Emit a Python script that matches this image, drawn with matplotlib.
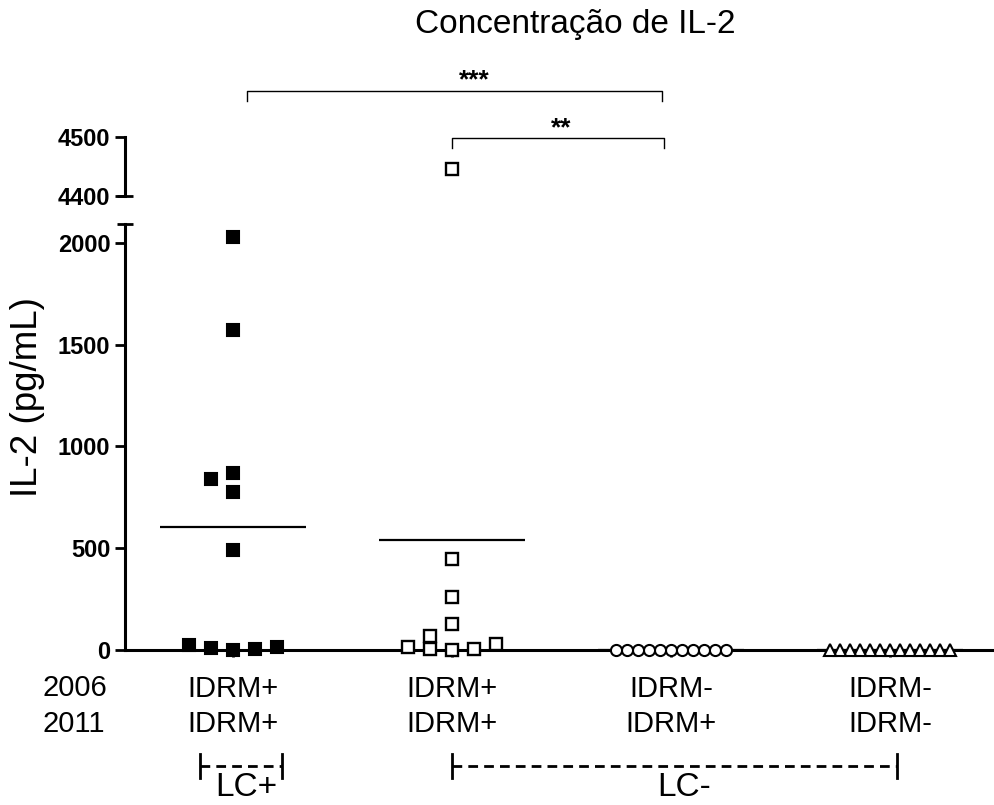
import numpy as np
import matplotlib.pyplot as plt
from matplotlib import transforms

plt.rcParams['font.family'] = ['Liberation Sans', 'DejaVu Sans']

# --- dados (pg/mL) ---
title = "Concentração de IL-2"
ylabel = "IL-2 (pg/mL)"
row_names = ["2006", "2011"]
labels_2006 = ["IDRM+", "IDRM+", "IDRM-", "IDRM-"]
labels_2011 = ["IDRM+", "IDRM+", "IDRM+", "IDRM-"]

lcpos_pp = [2030, 1570, 775, 870, 840, 490, 0, 10, 5, 25, 15]
lcneg_pp = [4445, 445, 260, 130, 70, 0, 5, 5, 15, 30]
lcneg_mp = [0, 0, 0, 0, 0, 0, 0, 0, 0, 0, 0]
lcneg_mm = [0, 0, 0, 0, 0, 0, 0, 0, 0, 0, 0, 0, 0]

groups = [lcpos_pp, lcneg_pp, lcneg_mp, lcneg_mm]
low_ticks = [0, 500, 1000, 1500, 2000]
high_ticks = [4400, 4500]

W, H = 995, 805


def fx(px):
    return px / W


def fy(py):
    return 1 - py / H


fig = plt.figure(figsize=(W / 100, H / 100), dpi=100)
ax = fig.add_axes([fx(125), fy(650), 1 - fx(125), (650 - 224) / H])
ax_top = fig.add_axes([fx(125), fy(196), 1 - fx(125), (196 - 137) / H])
ax.patch.set_visible(False)
ax_top.patch.set_visible(False)

pos = np.arange(1, 5)
xlim = (1 - 108 / 219, 1 + 762 / 219)
ax.set_ylim(0, 2093)
ax_top.set_ylim(4400, 4500)
ax.set_yticks(low_ticks)
ax_top.set_yticks(high_ticks)
for a in (ax, ax_top):
    a.set_xlim(*xlim)
    for s in ('top', 'right'):
        a.spines[s].set_visible(False)
    a.spines['left'].set_linewidth(2.2)
    a.tick_params(axis='y', direction='out', length=7, width=2, pad=3.5,
                  labelsize=17)
    for lab in a.get_yticklabels():
        lab.set_fontweight('bold')
ax_top.spines['bottom'].set_visible(False)
ax_top.set_xticks([])
ax.spines['bottom'].set_linewidth(2.2)

ax.set_xticks(pos)
ax.set_xticklabels([f"{a}\n{b}" for a, b in zip(labels_2006, labels_2011)],
                   fontsize=21, linespacing=1.33)
ax.tick_params(axis='x', direction='out', length=5, width=2, pad=13)

# marcas da quebra do eixo
ax.plot([0], [1], marker='_', ms=11, mew=2, color='black',
        transform=ax.transAxes, clip_on=False)
ax_top.plot([0], [0], marker='_', ms=11, mew=2, color='black',
            transform=ax_top.transAxes, clip_on=False)

fig.canvas.draw()


def swarm(a, values, center, step_px, h_px=13):
    # espalha pontos sobrepostos para os lados, como no GraphPad
    p0 = a.transData.transform((0, 0))
    px_y = a.transData.transform((0, 1))[1] - p0[1]
    px_x = a.transData.transform((1, 0))[0] - p0[0]
    cand = [0]
    for i in range(1, 30):
        cand += [-i, i]
    placed, xs = [], []
    for v in values:
        for k in cand:
            if all(not (kk == k and abs(v - vv) * px_y < h_px) for kk, vv in placed):
                break
        placed.append((k, v))
        xs.append(center + k * step_px / px_x)
    return np.array(xs)


styles = [
    dict(marker='s', mfc='black', mec='black', ms=8.5, mew=1.5),
    dict(marker='s', mfc='white', mec='black', ms=8.4, mew=1.7),
    dict(marker='o', mfc='white', mec='black', ms=8, mew=1.5),
    dict(marker='^', mfc='white', mec='black', ms=8.5, mew=1.5),
]
steps = [22, 22, 11, 10]

for p, vals, st, step in zip(pos, groups, styles, steps):
    vals = np.array(vals, dtype=float)
    lo = vals[vals <= 2093]
    hi = vals[vals >= 4400]
    if len(lo):
        ax.plot(swarm(ax, lo, p, step), lo, ls='none', clip_on=False, zorder=4, **st)
    if len(hi):
        ax_top.plot(swarm(ax_top, hi, p, step), hi, ls='none', clip_on=False, zorder=4, **st)
    ax.hlines(vals.mean(), p - 0.333, p + 0.333, color='black', lw=1.6, zorder=3)

# títulos
fig.text(fx(575), fy(33), title, fontsize=24, ha='center', va='baseline')
fig.text(fx(28), fy(397), ylabel, fontsize=26.5, rotation=90, ha='center', va='center')
fig.text(fx(43), fy(696), row_names[0], fontsize=21, ha='left', va='baseline')
fig.text(fx(43), fy(732), row_names[1], fontsize=21, ha='left', va='baseline')

# barras de significância
tb = transforms.blended_transform_factory(ax.transData, fig.transFigure)
sig = [(1.064, 2.96, 91, 101, "***", 2.1, 87),
       (2.0, 2.97, 138, 148, "**", 2.5, 135)]
for x0, x1, ytop, yleg, txt, xt, yt in sig:
    ax.plot([x0, x0, x1, x1], [fy(yleg), fy(ytop), fy(ytop), fy(yleg)],
            color='black', lw=1, transform=tb, clip_on=False)
    ax.text(xt, fy(yt), txt, fontsize=19, fontweight='bold', ha='center',
            va='baseline', transform=tb)

# grupos LC+ / LC-
brackets = [(0.849, 1.224, "LC+", 1.06), (2.0, 4.032, "LC-", 3.06)]
for x0, x1, txt, xt in brackets:
    ax.plot([x0, x1], [fy(766), fy(766)], color='black', lw=2,
            ls=(0, (3.5, 2.2)), transform=tb, clip_on=False)
    for xx in (x0, x1):
        ax.plot([xx, xx], [fy(754), fy(778)], color='black', lw=2,
                transform=tb, clip_on=False)
    ax.text(xt, fy(796), txt, fontsize=24, ha='center', va='baseline', transform=tb)

fig.savefig("out.png", dpi=100)
